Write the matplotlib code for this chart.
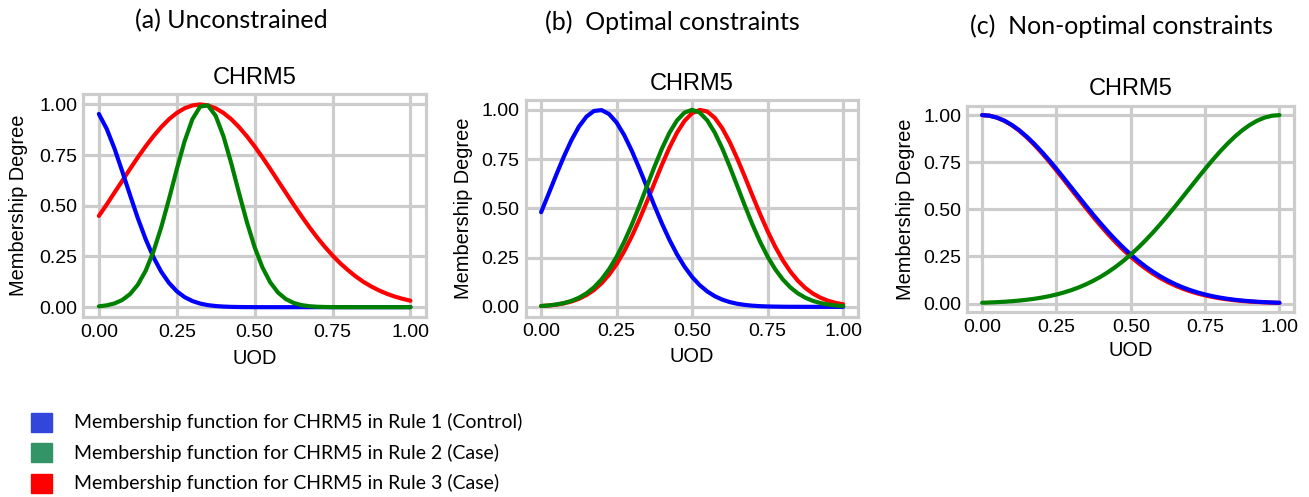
import numpy as np
import matplotlib.pyplot as plt
import matplotlib.patches as mpatches

# universe of discourse, sampled every 0.025
UOD = np.arange(41) / 40

# (a) unconstrained
A_RULE1 = [0.953, 0.880, 0.783, 0.670, 0.553, 0.439, 0.336, 0.247, 0.175, 0.1195,
           0.0786, 0.0497, 0.0303, 0.0178, 0.0100, 0.0055, 0.0029, 0.0014, 0.0007, 0.0003,
           0.0001, 0, 0, 0, 0, 0, 0, 0, 0, 0,
           0, 0, 0, 0, 0, 0, 0, 0, 0, 0, 0]
A_RULE2 = [0.0041, 0.0089, 0.0183, 0.0353, 0.0644, 0.1107, 0.1792, 0.2736, 0.3933, 0.5328,
           0.680, 0.8178, 0.9266, 0.9894, 0.9953, 0.9434, 0.8425, 0.709, 0.562, 0.420,
           0.2956, 0.196, 0.1225, 0.0721, 0.0400, 0.0209, 0.0103, 0.0048, 0.0021, 0.0009,
           0.0003, 0.0001, 0, 0, 0, 0, 0, 0, 0, 0, 0]
A_RULE3 = [0.450, 0.506, 0.565, 0.623, 0.682, 0.739, 0.793, 0.843, 0.888, 0.927,
           0.958, 0.981, 0.995, 1.000, 0.995, 0.981, 0.958, 0.927, 0.888, 0.843,
           0.793, 0.739, 0.682, 0.623, 0.565, 0.506, 0.450, 0.396, 0.345, 0.298,
           0.255, 0.216, 0.182, 0.151, 0.124, 0.1015, 0.082, 0.0657, 0.0521, 0.041, 0.032]

# (b) optimal constraints
B_RULE1 = [0.4803, 0.5742, 0.6696, 0.7616, 0.8450, 0.9146, 0.9655, 0.9943, 0.9987, 0.9786,
           0.9353, 0.8719, 0.7929, 0.7033, 0.6086, 0.5137, 0.4229, 0.3396, 0.2661, 0.2033,
           0.1515, 0.1101, 0.0781, 0.0540, 0.0365, 0.0240, 0.0154, 0.0097, 0.0059, 0.0035,
           0.0020, 0.0012, 0.0006, 0.0003, 0.0002, 0.0001, 0, 0, 0, 0, 0]
B_RULE2 = [0.0042, 0.0071, 0.0119, 0.0191, 0.0301, 0.0460, 0.0684, 0.0989, 0.1393, 0.1908,
           0.2544, 0.3300, 0.4164, 0.5113, 0.6109, 0.7102, 0.8033, 0.8841, 0.9467, 0.9864,
           1.0, 0.9864, 0.9467, 0.8841, 0.8033, 0.7102, 0.6109, 0.5113, 0.4164, 0.3300,
           0.2544, 0.1908, 0.1393, 0.0989, 0.0684, 0.0460, 0.0301, 0.0191, 0.0119, 0.0071, 0.0042]
B_RULE3 = [0.0041, 0.0068, 0.0111, 0.0175, 0.0270, 0.0406, 0.0597, 0.0855, 0.1195, 0.1631,
           0.2170, 0.2819, 0.3573, 0.4419, 0.5332, 0.6279, 0.7214, 0.8087, 0.8847, 0.9444,
           0.9836, 0.9997, 0.9914, 0.9593, 0.9058, 0.8345, 0.7503, 0.6582, 0.5634, 0.4705,
           0.3835, 0.3049, 0.2366, 0.1791, 0.1324, 0.0954, 0.0671, 0.0461, 0.0309, 0.0202, 0.0129]

# (c) non-optimal constraints
C_RULE1 = [1.0, 0.9966, 0.9866, 0.9702, 0.9476, 0.9193, 0.8859, 0.8480, 0.8063, 0.7615,
           0.7144, 0.6656, 0.6160, 0.5664, 0.5172, 0.4691, 0.4227, 0.3783, 0.3362, 0.2969,
           0.2604, 0.2268, 0.1963, 0.1687, 0.1440, 0.1222, 0.1029, 0.0861, 0.0716, 0.0591,
           0.0484, 0.0394, 0.0319, 0.0256, 0.0205, 0.0162, 0.0128, 0.0100, 0.0078, 0.0060, 0.0046]
C_RULE2 = [0.0046, 0.0060, 0.0078, 0.0100, 0.0128, 0.0162, 0.0205, 0.0256, 0.0319, 0.0394,
           0.0484, 0.0591, 0.0716, 0.0861, 0.1029, 0.1222, 0.1440, 0.1687, 0.1963, 0.2268,
           0.2604, 0.2969, 0.3362, 0.3783, 0.4227, 0.4691, 0.5172, 0.5664, 0.6160, 0.6656,
           0.7144, 0.7615, 0.8063, 0.8480, 0.8859, 0.9193, 0.9476, 0.9702, 0.9866, 0.9966, 1.0]
C_RULE3 = [1.0, 0.9965, 0.9862, 0.9692, 0.9458, 0.9167, 0.8822, 0.8432, 0.8003, 0.7543,
           0.7060, 0.6563, 0.6057, 0.5553, 0.5055, 0.4569, 0.4102, 0.3657, 0.3237, 0.2846,
           0.2485, 0.2154, 0.1855, 0.1586, 0.1346, 0.1135, 0.0951, 0.0791, 0.0653, 0.0535,
           0.0436, 0.0352, 0.0283, 0.0226, 0.0179, 0.0141, 0.0110, 0.0085, 0.0066, 0.0050, 0.0038]

TICKS = [0, 0.25, 0.5, 0.75, 1.0]
TICK_LABELS = ['0.00', '0.25', '0.50', '0.75', '1.00']
HEADERS = ['(a) Unconstrained', '(b)  Optimal constraints', '(c)  Non-optimal constraints']
LEGEND_LABELS = ['Membership function for CHRM5 in Rule 1 (Control)',
                 'Membership function for CHRM5 in Rule 2 (Case)',
                 'Membership function for CHRM5 in Rule 3 (Case)']

W, H = 1309, 497
GRID = '#cccccc'
LEGEND_COLOURS = ['#3346dc', '#339468', '#fe0000']

# axes boxes in pixels: left, top, right, bottom
BOXES = [(83.3, 94.3, 426.0, 317.3),
         (526.0, 100.0, 858.3, 316.7),
         (967.3, 105.7, 1294.3, 312.3)]
HEADER_POS = [(231, 21), (672, 22), (1121, 26)]

plt.rcParams['font.family'] = 'Liberation Sans'

fig = plt.figure(figsize=(W / 100, H / 100), dpi=100)

panels = [(A_RULE1, A_RULE2, A_RULE3),
          (B_RULE1, B_RULE2, B_RULE3),
          (C_RULE1, C_RULE2, C_RULE3)]

line_kw = dict(lw=3.0, solid_joinstyle='round', solid_capstyle='round')

for box, (r1, r2, r3), head, hpos in zip(BOXES, panels, HEADERS, HEADER_POS):
    l, t, r, b = box
    ax = fig.add_axes([l / W, 1 - b / H, (r - l) / W, (b - t) / H])
    # red first so blue sits on top of it in (c)
    ax.plot(UOD, r3, color='red', **line_kw)
    ax.plot(UOD, r1, color='blue', **line_kw)
    ax.plot(UOD, r2, color='green', **line_kw)

    ax.set_xticks(TICKS)
    ax.set_xticklabels(TICK_LABELS)
    ax.set_yticks(TICKS)
    ax.set_yticklabels(TICK_LABELS)
    ax.set_axisbelow(True)
    ax.grid(True, color=GRID, lw=2.3)
    for sp in ax.spines.values():
        sp.set_color(GRID)
        sp.set_linewidth(2.3)
    ax.tick_params(length=0, labelsize=14, pad=4.5)

    ax.set_title('CHRM5', fontsize=17, pad=7.5)
    ax.set_xlabel('UOD', fontsize=14.4, va='center')
    ax.set_ylabel('Membership Degree', fontsize=14.4, va='center')
    ax.xaxis.set_label_coords(0.5, -0.185)
    ax.yaxis.set_label_coords(-0.188, 0.5)

    fig.text(hpos[0] / W, 1 - hpos[1] / H, head, ha='center', va='center',
             family='Lato', fontsize=18)

# legend drawn by hand at the bottom left
for i, (col, lab) in enumerate(zip(LEGEND_COLOURS, LEGEND_LABELS)):
    yc = 422 + 30.5 * i
    fig.add_artist(mpatches.Rectangle((31 / W, 1 - (yc + 9.5) / H), 21 / W, 19 / H,
                                      color=col, transform=fig.transFigure))
    fig.text(74 / W, 1 - yc / H, lab, ha='left', va='center', family='Lato', fontsize=14)

plt.savefig('out.png', dpi=100)
